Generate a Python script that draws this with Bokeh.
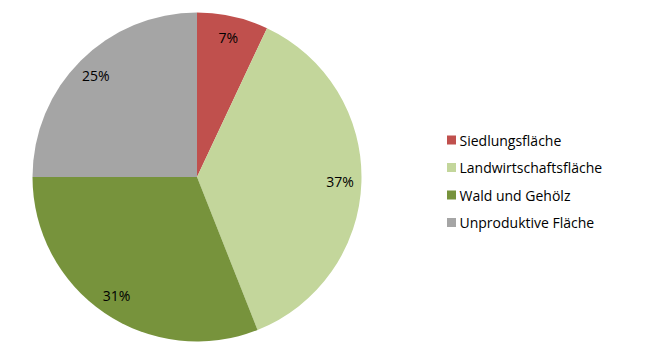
import math
from bokeh.plotting import figure
from bokeh.models import Range1d, ColumnDataSource
from bokeh.core.properties import value
from bokeh.embed import file_html
from bokeh.resources import INLINE

categories = ["Siedlungsfläche", "Landwirtschaftsfläche", "Wald und Gehölz", "Unproduktive Fläche"]
shares = [7, 37, 31, 25]
colors = ["#C0504D", "#C3D69B", "#77933C", "#A5A5A5"]

W, H = 630, 347
cx, cy, R = 196.5, H - 176.5, 164.5
label_r = 0.87

p = figure(width=W, height=H, output_backend="svg", toolbar_location=None,
           x_range=Range1d(0, W), y_range=Range1d(0, H), min_border=0)
p.axis.visible = False
p.grid.visible = False
p.outline_line_color = None
p.background_fill_color = "white"
p.border_fill_color = "white"

total = sum(shares)
starts, ends, lx, ly, labels = [], [], [], [], []
cum = 0
for s in shares:
    a0 = math.pi / 2 - 2 * math.pi * cum / total
    a1 = math.pi / 2 - 2 * math.pi * (cum + s) / total
    starts.append(a0)
    ends.append(a1)
    mid = (a0 + a1) / 2
    lx.append(cx + label_r * R * math.cos(mid))
    ly.append(cy + label_r * R * math.sin(mid))
    labels.append(f"{s}%")
    cum += s

src = ColumnDataSource(dict(start=starts, end=ends, color=colors, x=[cx] * 4, y=[cy] * 4))
p.wedge(x="x", y="y", radius=R, start_angle="start", end_angle="end", direction="clock",
        fill_color="color", line_color=None, source=src)

p.text(x=lx, y=ly, text=labels, text_align="center", text_baseline="middle",
       text_font=value("Open Sans"), text_font_size="14px", text_color="#000000")

# legend
leg_x = 451
leg_y0 = H - 139.5
step = 27.5
ys = [leg_y0 - i * step for i in range(len(categories))]
p.rect(x=[leg_x] * 4, y=ys, width=9, height=9, fill_color=colors, line_color=None)
p.text(x=[leg_x + 8] * 4, y=ys, text=categories, text_align="left", text_baseline="middle",
       text_font=value("Open Sans"), text_font_size="14px", text_color="#000000")

open("out.html", "w").write(file_html(p, INLINE))
